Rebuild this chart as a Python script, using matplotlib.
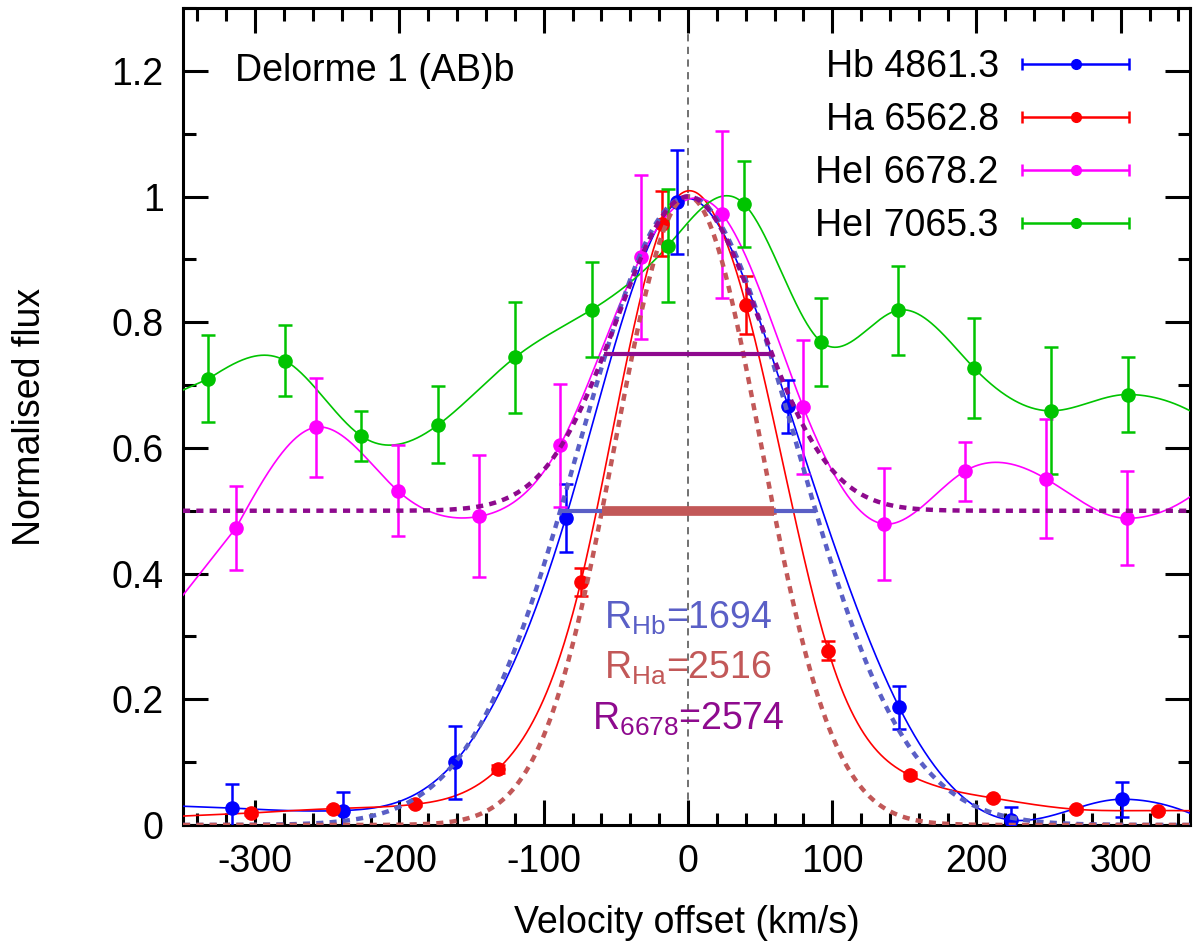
import numpy as np
import matplotlib
matplotlib.use("Agg")
import matplotlib.pyplot as plt
from matplotlib.container import ErrorbarContainer
from matplotlib.legend_handler import HandlerErrorbar
from matplotlib.ticker import MultipleLocator, FuncFormatter

plt.rcParams['font.family'] = ['Liberation Sans', 'DejaVu Sans']
plt.rcParams['mathtext.fontset'] = 'custom'
plt.rcParams['mathtext.rm'] = 'Liberation Sans'
plt.rcParams['mathtext.it'] = 'Liberation Sans'
plt.rcParams['axes.unicode_minus'] = False

# velocity (km/s), normalised flux, error
hb_v = [-316.2, -239.1, -161.7, -84.8, -7.8, 69.5, 146.5, 223.6, 301.0]
hb_f = [0.027, 0.023, 0.100, 0.488, 0.991, 0.666, 0.187, 0.008, 0.041]
hb_e = [0.038, 0.030, 0.058, 0.054, 0.083, 0.042, 0.034, 0.021, 0.028]

ha_v = [-302.6, -246.0, -189.0, -131.7, -74.2, -17.8, 40.2, 97.3, 153.8, 211.2, 268.7, 325.9]
ha_f = [0.019, 0.026, 0.033, 0.089, 0.387, 0.957, 0.828, 0.277, 0.079, 0.043, 0.025, 0.023]
ha_e = [0.003, 0.003, 0.003, 0.006, 0.022, 0.052, 0.046, 0.015, 0.005, 0.003, 0.003, 0.003]

he6678_v = [-313.2, -257.6, -201.2, -144.8, -88.7, -32.6, 23.8, 79.9, 135.8, 191.9, 248.1, 304.4]
he6678_f = [0.473, 0.633, 0.532, 0.491, 0.604, 0.904, 0.972, 0.665, 0.479, 0.563, 0.551, 0.488]
he6678_e = [0.067, 0.079, 0.072, 0.097, 0.098, 0.130, 0.133, 0.106, 0.089, 0.047, 0.095, 0.075]

he7065_v = [-332.4, -279.3, -226.4, -173.0, -119.9, -66.7, -13.7, 39.0, 92.2, 145.5, 198.4, 251.6, 304.7]
he7065_f = [0.710, 0.739, 0.619, 0.637, 0.744, 0.820, 0.922, 0.988, 0.769, 0.819, 0.727, 0.659, 0.685]
he7065_e = [0.069, 0.056, 0.040, 0.061, 0.088, 0.076, 0.090, 0.068, 0.070, 0.071, 0.080, 0.101, 0.060]

labels = ["Hb 4861.3", "Ha 6562.8", "HeI 6678.2", "HeI 7065.3"]
colors = ["#0000ff", "#ff0000", "#ff00ff", "#00c400"]

# resolving power of each line (instrumental profile)
C_KMS = 299792.458
R_hb, R_ha, R_6678 = 1694, 2516, 2574
col_hb, col_ha, col_6678 = "#5a5fc6", "#c25858", "#8e0a8e"


def spline(x, y, xs, right_slope=None):
    # cubic spline, natural on the left, optional clamped slope on the right
    # outside the knots: soft extension of the end segment
    x = np.asarray(x, float)
    y = np.asarray(y, float)
    n = len(x)
    h = np.diff(x)
    A = np.zeros((n, n))
    b = np.zeros(n)
    A[0, 0] = 1.0
    for i in range(1, n - 1):
        A[i, i - 1] = h[i - 1] / 6
        A[i, i] = (h[i - 1] + h[i]) / 3
        A[i, i + 1] = h[i] / 6
        b[i] = (y[i + 1] - y[i]) / h[i] - (y[i] - y[i - 1]) / h[i - 1]
    if right_slope is None:
        A[-1, -1] = 1.0
    else:
        A[-1, -2] = h[-1] / 6
        A[-1, -1] = h[-1] / 3
        b[-1] = right_slope - (y[-1] - y[-2]) / h[-1]
    M = np.linalg.solve(A, b)
    i = np.clip(np.searchsorted(x, xs) - 1, 0, n - 2)
    hi = h[i]
    a = x[i + 1] - xs
    c = xs - x[i]
    out = (M[i] * a ** 3 / (6 * hi) + M[i + 1] * c ** 3 / (6 * hi)
           + (y[i] / hi - M[i] * hi / 6) * a + (y[i + 1] / hi - M[i + 1] * hi / 6) * c)
    d0 = (y[1] - y[0]) / h[0] - h[0] / 6 * (2 * M[0] + M[1])
    d1 = (y[-1] - y[-2]) / h[-1] + h[-1] / 6 * (M[-2] + 2 * M[-1])
    lo = xs < x[0]
    up = xs > x[-1]
    out[lo] = y[0] + 0.7 * d0 * (xs[lo] - x[0])
    out[up] = y[-1] + d1 * (xs[up] - x[-1]) + 0.25 * M[-1] * (xs[up] - x[-1]) ** 2
    return out


def gauss(v, R):
    fwhm = C_KMS / R
    sig = fwhm / 2.3548
    return np.exp(-0.5 * (v / sig) ** 2)


fig = plt.figure(figsize=(12, 9.5), dpi=100)
ax = fig.add_axes([183 / 1200, 1 - 825 / 950, 1007 / 1200, 817 / 950])

vv = np.linspace(-350, 348, 1200)
series = [(hb_v, hb_f, hb_e), (ha_v, ha_f, ha_e),
          (he6678_v, he6678_f, he6678_e), (he7065_v, he7065_f, he7065_e)]

ax.axvline(0, color="#666666", lw=1.3, dashes=(4, 3), zorder=1)

for (v, f, e), col in zip(series, colors):
    ax.plot(vv, spline(v, f, vv, right_slope=0.0), color=col, lw=1.2, zorder=3)
    ax.errorbar(v, f, yerr=e, fmt='o', color=col, ms=9.5, elinewidth=1.8,
                capsize=5, capthick=1.8, zorder=4)

# instrumental profiles
ax.plot(vv, gauss(vv, R_hb), color=col_hb, lw=3.2, dashes=(1.6, 1.4), zorder=5)
ax.plot(vv, gauss(vv, R_ha), color=col_ha, lw=3.2, dashes=(1.6, 1.4), zorder=5)
ax.plot(vv, 0.5 + 0.5 * gauss(vv, R_6678), color=col_6678, lw=3.2, dashes=(1.6, 1.4), zorder=5)

# FWHM bars
hw_hb = C_KMS / R_hb / 2
hw_ha = C_KMS / R_ha / 2
hw_6678 = C_KMS / R_6678 / 2
ax.plot([-hw_hb, hw_hb], [0.5, 0.5], color=col_hb, lw=3, solid_capstyle='butt', zorder=6)
ax.plot([-hw_ha, hw_ha], [0.5, 0.5], color=col_ha, lw=7, solid_capstyle='butt', zorder=7)
ax.plot([-hw_6678, hw_6678], [0.75, 0.75], color=col_6678, lw=3, solid_capstyle='butt', zorder=6)

ax.text(0, 0.313, r"R$_{\mathrm{Hb}}$=%d" % R_hb, color=col_hb, fontsize=27, ha='center', va='baseline')
ax.text(0, 0.233, r"R$_{\mathrm{Ha}}$=%d" % R_ha, color=col_ha, fontsize=27, ha='center', va='baseline')
ax.text(0, 0.151, r"R$_{\mathrm{6678}}$=%d" % R_6678, color=col_6678, fontsize=27, ha='center', va='baseline')

ax.text(-314, 1.2, "Delorme 1 (AB)b", fontsize=27, ha='left', va='center')

# legend with horizontal error bars (gnuplot style)
handles = []
for col in colors:
    h = ax.errorbar([np.nan], [np.nan], xerr=[1], fmt='o', color=col, ms=7,
                    elinewidth=1.8, capsize=4, capthick=1.8)
    handles.append(h)
ax.legend(handles, labels, loc='upper right', bbox_to_anchor=(1130 / 1200, 1 - 49 / 950),
          bbox_transform=fig.transFigure, frameon=False, markerfirst=False, fontsize=27,
          handlelength=2.9, handletextpad=0.6, labelspacing=0.45, borderpad=0,
          borderaxespad=0, handler_map={ErrorbarContainer: HandlerErrorbar(xerr_size=1.42)})

ax.set_xlim(-350, 348)
ax.set_ylim(0, 1.3)
ax.xaxis.set_major_locator(MultipleLocator(100))
ax.xaxis.set_minor_locator(MultipleLocator(20))
ax.yaxis.set_major_locator(MultipleLocator(0.2))
ax.yaxis.set_minor_locator(MultipleLocator(0.1))
ax.yaxis.set_major_formatter(FuncFormatter(lambda y, p: "%g" % round(y, 2)))
ax.tick_params(which='both', direction='in', top=True, right=True, width=2.2, labelsize=27)
ax.tick_params(which='major', length=18, pad=14)
ax.tick_params(which='minor', length=9)
for s in ax.spines.values():
    s.set_linewidth(2.2)

ax.set_xlabel("Velocity offset (km/s)", fontsize=27, labelpad=18)
ax.set_ylabel("Normalised flux", fontsize=27, labelpad=46)

fig.savefig("out.png", dpi=100)
